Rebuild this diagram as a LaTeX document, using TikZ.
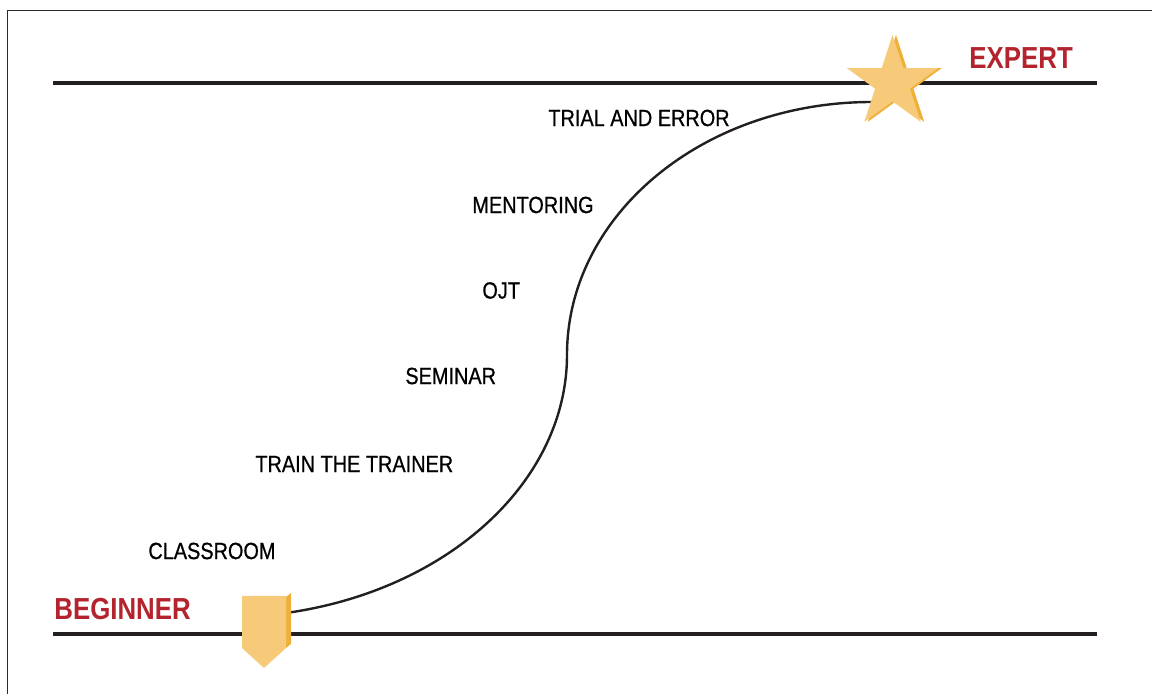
\documentclass[tikz,border=0pt]{standalone}
\usepackage{fontspec}
\usetikzlibrary{shapes.geometric}
\newfontfamily\labelfont{Liberation Sans}[FakeStretch=0.85,FakeBold=0.7]
\newfontfamily\levelfont{Liberation Sans}[FakeStretch=0.85]
\definecolor{inkline}{HTML}{231F20}
\definecolor{levelred}{RGB}{180,36,46}
\definecolor{goldface}{HTML}{F6CA78}
\definecolor{goldside}{HTML}{EFB03A}
\definecolor{framegray}{HTML}{2A2A2A}
\tikzset{
  steplabel/.style={anchor=west, inner sep=0pt, text=black,
    font=\labelfont\fontsize{11.7}{12}\selectfont},
  levellabel/.style={anchor=west, inner sep=0pt, text=levelred,
    font=\levelfont\bfseries\fontsize{15.2}{16}\selectfont},
  levelline/.style={draw=inkline, line width=2.4pt},
  pathline/.style={draw=inkline, line width=1.2pt},
  starmark/.style={star, star points=5, star point ratio=2.618,
    minimum size=48pt, inner sep=0pt, draw=none}
}
\begin{document}
\begin{tikzpicture}[x=0.5pt, y=-0.5pt]
  \useasboundingbox (0,0) rectangle (1152,694);
  % open frame along the top and left
  \draw[framegray, line width=0.8pt] (1152,10.5) -- (7.5,10.5) -- (7.5,694);

  % beginner and expert levels
  \coordinate (toplineW) at (53,83);
  \coordinate (toplineE) at (1097,83);
  \coordinate (baselineW) at (53,634);
  \coordinate (baselineE) at (1097,634);
  \draw[levelline] (toplineW) -- (toplineE);
  \draw[levelline] (baselineW) -- (baselineE);

  % learning path
  \coordinate (start) at (286,613);
  \coordinate (turn) at (567,355);
  \coordinate (finish) at (872,102);
  \draw[pathline] (start) .. controls (450,590) and (567,480) .. (turn)
                          .. controls (567,215) and (703,102) .. (finish);

  % beginner marker
  \fill[goldside] (286,597) -- (291,593) -- (291,644) -- (286,648) -- cycle;
  \fill[goldface] (242,596) -- (286,596) -- (286,648) -- (264,668) -- (242,648) -- cycle;

  % expert star
  \node[starmark, fill=goldside] (starside) at (896,83) {};
  \node[starmark, fill=goldface] (star) at (892.5,83) {};

  % level labels
  \node[levellabel] (expert) at (969,58.5) {EXPERT};
  \node[levellabel] (beginner) at (54,609) {BEGINNER};

  % learning methods
  \node[steplabel] (trial) at (548,118) {TRIAL AND ERROR};
  \node[steplabel] (mentoring) at (472,205) {MENTORING};
  \node[steplabel] (ojt) at (482,290.5) {OJT};
  \node[steplabel] (seminar) at (405,376) {SEMINAR};
  \node[steplabel] (trainer) at (255,464) {TRAIN THE TRAINER};
  \node[steplabel] (classroom) at (148,551) {CLASSROOM};
\end{tikzpicture}
\end{document}
